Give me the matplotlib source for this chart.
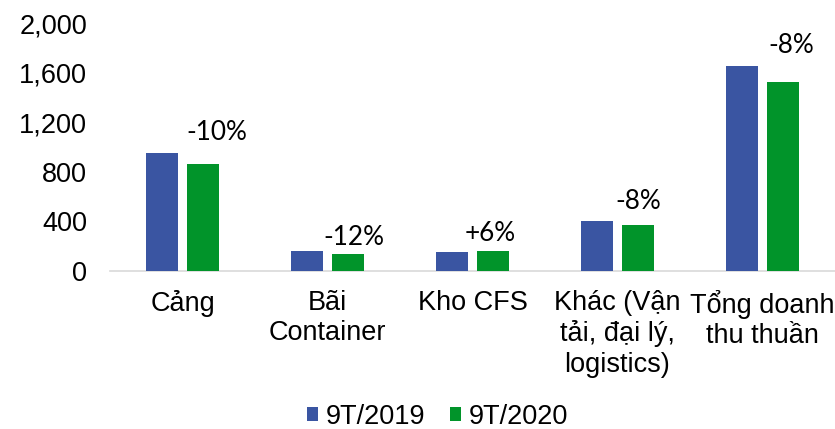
import matplotlib
matplotlib.use("Agg")
import matplotlib.pyplot as plt
import numpy as np

categories = ["Cảng", "Bãi\nContainer", "Kho CFS", "Khác (Vận\ntải, đại lý,\nlogistics)", "Tổng doanh\nthu thuần"]
series_names = ["9T/2019", "9T/2020"]
values_2019 = [952, 159, 153, 402, 1655]
values_2020 = [859, 137, 161, 368, 1521]
change_labels = ["-10%", "-12%", "+6%", "-8%", "-8%"]
yticks = [0, 400, 800, 1200, 1600, 2000]

# label offsets (pixels) relative to top-centre of the 2020 bar
label_dx = [14, 6, -3, 0, 8]
label_dy = [32, 17, 18, 24, 37]

colors = ["#3A55A2", "#01942A"]

fig = plt.figure(figsize=(8.35, 4.29), dpi=100)
ax = fig.add_axes([110/835, 1-271/429, 1-110/835, (271-23)/429])

x = np.arange(len(categories))
w = 0.224
off = 0.142
ax.bar(x - off, values_2019, w, color=colors[0], label=series_names[0], zorder=3)
ax.bar(x + off, values_2020, w, color=colors[1], label=series_names[1], zorder=3)

fs = 19.5
ax.set_xlim(-0.5, len(categories) - 0.5)
ax.set_ylim(0, 2000)
ax.set_yticks(yticks)
ax.set_yticklabels([f"{v:,}" for v in yticks], fontsize=fs, family="Liberation Sans")
ax.set_xticks(x)
ax.set_xticklabels(categories, fontsize=fs, family="Liberation Sans", linespacing=1.22, va="top")
ax.tick_params(axis="y", length=0, pad=16.5)
ax.tick_params(axis="x", length=0, pad=13.5)
for s in ["top", "right", "left"]:
    ax.spines[s].set_visible(False)
ax.spines["bottom"].set_color("#d9d9d9")
ax.spines["bottom"].set_linewidth(1.2)

for i, lab in enumerate(change_labels):
    ax.annotate(lab, xy=(x[i] + off, values_2020[i]),
                xytext=(label_dx[i] * 0.72, label_dy[i] * 0.72),
                textcoords="offset points", ha="center", va="center",
                fontsize=18.8, family="Lato")

leg = fig.legend(loc="center", bbox_to_anchor=(0.524, 1 - 417/429), ncol=2,
                 frameon=False, prop={"family": "Liberation Sans", "size": fs},
                 handlelength=0.42, handleheight=0.42, handletextpad=0.28, columnspacing=0.9)

fig.savefig("out.png", dpi=100)
